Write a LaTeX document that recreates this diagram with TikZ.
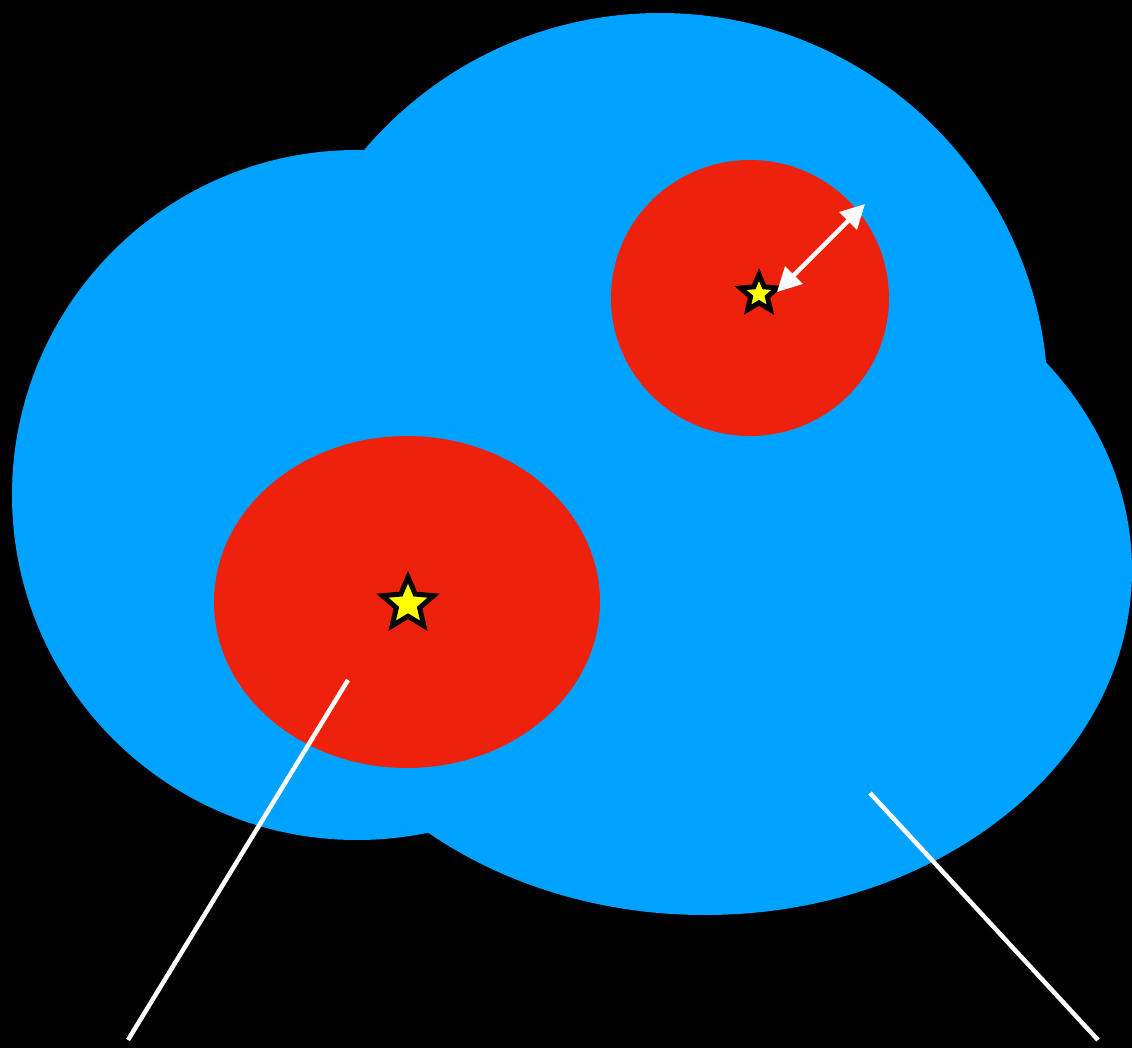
\documentclass[tikz,border=0pt]{standalone}
\usetikzlibrary{shapes.geometric,arrows.meta}
\definecolor{skyblue}{HTML}{00A2FF}
\definecolor{redarea}{HTML}{EE220C}
\definecolor{staryellow}{HTML}{FFFF00}
\begin{document}
\begin{tikzpicture}[x=0.01cm,y=-0.01cm,
  px/.style={line width=#1*0.2835pt},
  starnode/.style={star, star points=5, star point ratio=2.2, fill=staryellow, draw=black, px=5, inner sep=0pt},
  whiteline/.style={draw=white, px=4.5},
  dblarrow/.style={draw=white, px=4.5, {Triangle[length=24*0.2835pt, width=24*0.2835pt]}-{Triangle[length=24*0.2835pt, width=24*0.2835pt]}}]
  \fill[black] (0,0) rectangle (1132,1048);
  \useasboundingbox (0,0) rectangle (1132,1048);
  % blue region
  \fill[skyblue] (357,495) ellipse [x radius=345, y radius=345];
  \fill[skyblue] (660,401) ellipse [x radius=388, y radius=388];
  \fill[skyblue] (705,570) ellipse [x radius=427, y radius=345];
  % red regions
  \fill[redarea] (750,298) ellipse [x radius=139, y radius=138];
  \fill[redarea] (407,602) ellipse [x radius=193, y radius=166];
  % stars
  \node[starnode, minimum size=54*0.2835pt] (s1) at (408,604) {};
  \node[starnode, minimum size=39*0.2835pt] (s2) at (759,294) {};
  % arrow
  \coordinate (a1) at (777,292);
  \coordinate (a2) at (865,204);
  \draw[dblarrow] (a1) -- (a2);
  % lines
  \coordinate (l1a) at (348,680);
  \coordinate (l1b) at (128,1040);
  \coordinate (l2a) at (870,793);
  \coordinate (l2b) at (1098,1040);
  \draw[whiteline] (l1a) -- (l1b);
  \draw[whiteline] (l2a) -- (l2b);
\end{tikzpicture}
\end{document}
